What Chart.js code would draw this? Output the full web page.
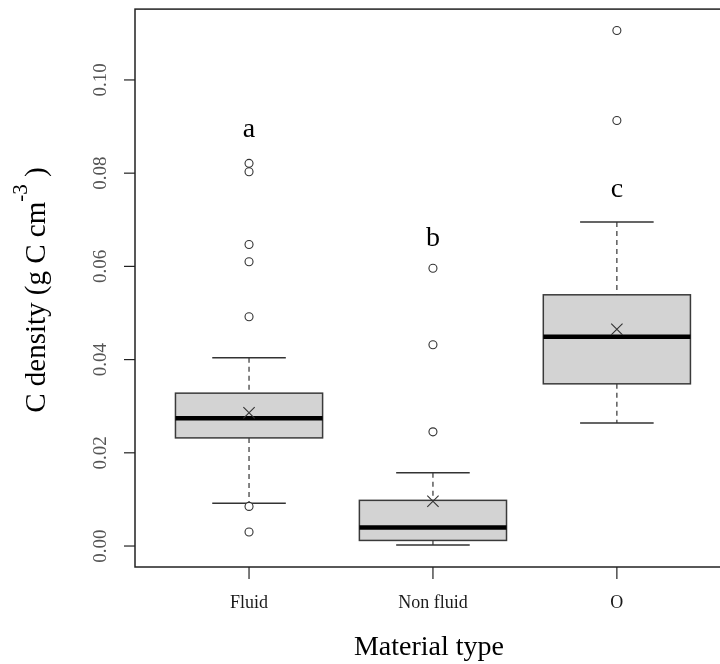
<!DOCTYPE html>
<html>
<head>
<meta charset="utf-8">
<script src="https://cdn.jsdelivr.net/npm/chart.js@4.4.1/dist/chart.umd.min.js"></script>
<style>
  html, body { margin: 0; padding: 0; background: #fff; overflow: hidden; }
  #wrap { width: 720px; height: 664px; overflow: hidden; }
</style>
</head>
<body>
<div id="wrap"><canvas id="myChart" width="740" height="664"></canvas></div>
<script>
// data
const categories = ["Fluid", "Non fluid", "O"];
const whiskerLow = [0.0092, 0.0002, 0.0264];
const q1 = [0.0232, 0.0012, 0.0348];
const median = [0.0274, 0.0040, 0.0449];
const q3 = [0.0328, 0.0098, 0.0539];
const whiskerHigh = [0.0404, 0.0157, 0.0695];
const means = [0.0286, 0.0096, 0.0465];
const outliers = [
  [0.0821, 0.0803, 0.0647, 0.0610, 0.0492, 0.0085, 0.0030],
  [0.0596, 0.0432, 0.0245],
  [0.1106, 0.0913],
];
const letters = ["a", "b", "c"];
const letterY = [0.0894, 0.0660, 0.0764];
const yTicks = [0.00, 0.02, 0.04, 0.06, 0.08, 0.10];
const yTickLabels = ["0.00", "0.02", "0.04", "0.06", "0.08", "0.10"];

const SERIF = '"Liberation Serif", "DejaVu Serif", serif';

let outlierPoints = [];
outliers.forEach((list, i) => list.forEach(v => outlierPoints.push({ x: i + 1, y: v })));
const meanPoints = means.map((v, i) => ({ x: i + 1, y: v }));

// boxes, axes and text drawn through the chart scales
const boxPlugin = {
  id: "boxes",
  beforeDatasetsDraw(chart) {
    const { ctx, scales: { x, y } } = chart;
    ctx.save();
    categories.forEach((c, i) => {
      const cx = x.getPixelForValue(i + 1);
      const left = x.getPixelForValue(i + 1 - 0.4);
      const right = x.getPixelForValue(i + 1 + 0.4);
      const sl = x.getPixelForValue(i + 1 - 0.2);
      const sr = x.getPixelForValue(i + 1 + 0.2);
      const top = y.getPixelForValue(q3[i]);
      const bot = y.getPixelForValue(q1[i]);

      // whiskers
      ctx.strokeStyle = "#333";
      ctx.lineWidth = 1.2;
      ctx.setLineDash([5, 4]);
      ctx.beginPath();
      ctx.moveTo(cx, y.getPixelForValue(whiskerHigh[i]));
      ctx.lineTo(cx, top);
      ctx.moveTo(cx, bot);
      ctx.lineTo(cx, y.getPixelForValue(whiskerLow[i]));
      ctx.stroke();
      ctx.setLineDash([]);
      ctx.lineWidth = 1.5;
      ctx.beginPath();
      ctx.moveTo(sl, y.getPixelForValue(whiskerHigh[i]));
      ctx.lineTo(sr, y.getPixelForValue(whiskerHigh[i]));
      ctx.moveTo(sl, y.getPixelForValue(whiskerLow[i]));
      ctx.lineTo(sr, y.getPixelForValue(whiskerLow[i]));
      ctx.stroke();

      // box
      ctx.fillStyle = "#d3d3d3";
      ctx.fillRect(left, top, right - left, bot - top);
      ctx.strokeStyle = "#3a3a3a";
      ctx.lineWidth = 1.5;
      ctx.strokeRect(left, top, right - left, bot - top);

      // median
      ctx.strokeStyle = "#000";
      ctx.lineWidth = 4.5;
      ctx.beginPath();
      ctx.moveTo(left, y.getPixelForValue(median[i]));
      ctx.lineTo(right, y.getPixelForValue(median[i]));
      ctx.stroke();
    });
    ctx.restore();
  },
  afterDraw(chart) {
    const { ctx, chartArea: a, scales: { x, y } } = chart;
    ctx.save();
    // frame
    ctx.strokeStyle = "#222";
    ctx.lineWidth = 1.5;
    ctx.strokeRect(a.left, a.top, a.right - a.left, a.bottom - a.top);

    // y ticks
    ctx.lineWidth = 1.2;
    ctx.fillStyle = "#555";
    ctx.font = "19px " + SERIF;
    ctx.textAlign = "center";
    ctx.textBaseline = "middle";
    yTicks.forEach((v, i) => {
      const py = y.getPixelForValue(v);
      ctx.beginPath();
      ctx.moveTo(a.left - 11, py);
      ctx.lineTo(a.left, py);
      ctx.stroke();
      ctx.save();
      ctx.translate(a.left - 34, py);
      ctx.rotate(-Math.PI / 2);
      ctx.fillText(yTickLabels[i], 0, 0);
      ctx.restore();
    });

    // x ticks
    categories.forEach((c, i) => {
      const px = x.getPixelForValue(i + 1);
      ctx.beginPath();
      ctx.moveTo(px, a.bottom);
      ctx.lineTo(px, a.bottom + 12);
      ctx.stroke();
      ctx.fillStyle = "#1a1a1a";
      ctx.font = "18px " + SERIF;
      ctx.fillText(c, px, a.bottom + 36);
    });

    // group letters
    ctx.fillStyle = "#000";
    ctx.font = "28px " + SERIF;
    letters.forEach((l, i) => {
      ctx.fillText(l, x.getPixelForValue(i + 1), y.getPixelForValue(letterY[i]));
    });

    // axis titles
    ctx.font = "28px " + SERIF;
    ctx.fillText("Material type", 429, a.bottom + 81);

    ctx.save();
    ctx.translate(37, (a.top + a.bottom) / 2 + 2);
    ctx.rotate(-Math.PI / 2);
    const main = "C density (g C cm";
    const sup = "-3";
    const close = ")";
    ctx.font = "29px " + SERIF;
    const w1 = ctx.measureText(main).width;
    const w3 = ctx.measureText(" " + close).width;
    ctx.font = "21px " + SERIF;
    const w2 = ctx.measureText(sup).width;
    const total = w1 + w2 + w3;
    let sx = -total / 2;
    ctx.textAlign = "left";
    ctx.font = "29px " + SERIF;
    ctx.fillText(main, sx, 0);
    ctx.font = "21px " + SERIF;
    ctx.fillText(sup, sx + w1, -16);
    ctx.font = "29px " + SERIF;
    ctx.fillText(" " + close, sx + w1 + w2, 0);
    ctx.restore();

    ctx.restore();
  },
};

new Chart("myChart", {
  type: "scatter",
  data: {
    datasets: [
      {
        data: outlierPoints,
        pointStyle: "circle",
        pointRadius: 4,
        pointBorderWidth: 1.1,
        pointBorderColor: "#333",
        pointBackgroundColor: "#fff",
      },
      {
        data: meanPoints,
        pointStyle: "crossRot",
        pointRadius: 8,
        pointBorderWidth: 1.1,
        pointBorderColor: "#333",
      },
    ],
  },
  options: {
    responsive: false,
    animation: false,
    layout: { padding: { left: 135, top: 7, right: 6, bottom: 97 } },
    plugins: { legend: { display: false }, tooltip: { enabled: false } },
    scales: {
      x: { type: "linear", min: 0.38, max: 3.62, display: false },
      y: { type: "linear", min: -0.0045, max: 0.1152, display: false },
    },
  },
  plugins: [boxPlugin],
});
</script>
</body>
</html>
